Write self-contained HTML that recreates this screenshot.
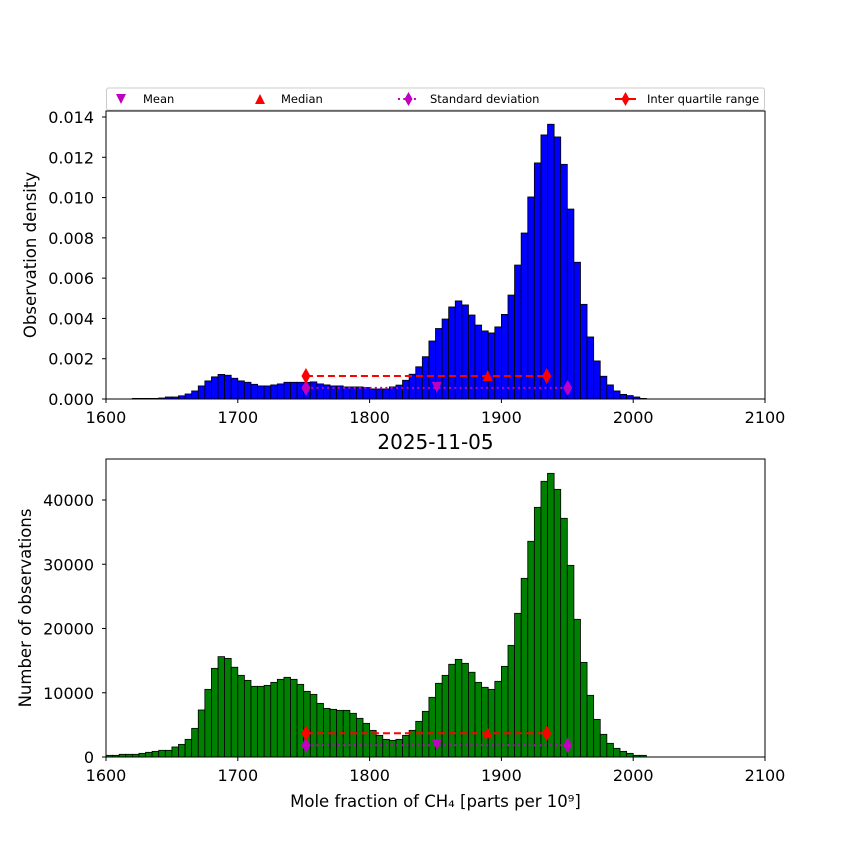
<!DOCTYPE html>
<html><head><meta charset="utf-8"><style>
html,body{margin:0;padding:0;background:#fff;}
svg{display:block;font-family:"DejaVu Sans","Liberation Sans",sans-serif;}
</style></head><body>
<svg id="chart" width="850" height="850" viewBox="0 0 850 850"></svg>
<script>
// ---- data ----
const topBins = [1620,1625,1630,1635,1640,1645,1650,1655,1660,1665,1670,1675,1680,1685,1690,1695,1700,1705,1710,1715,1720,1725,1730,1735,1740,1745,1750,1755,1760,1765,1770,1775,1780,1785,1790,1795,1800,1805,1810,1815,1820,1825,1830,1835,1840,1845,1850,1855,1860,1865,1870,1875,1880,1885,1890,1895,1900,1905,1910,1915,1920,1925,1930,1935,1940,1945,1950,1955,1960,1965,1970,1975,1980,1985,1990,1995,2000,2005];
const topDensity = [0.00003,0.00003,0.00003,0.00003,0.00005,0.0001,0.0001,0.00016,0.00025,0.0004,0.00065,0.0009,0.0011,0.00122,0.00118,0.00103,0.0009,0.00083,0.00073,0.00065,0.00065,0.0007,0.00075,0.00083,0.00083,0.00083,0.00083,0.00085,0.00075,0.0007,0.00065,0.00065,0.0006,0.0006,0.0006,0.00057,0.0005,0.0005,0.0005,0.0006,0.00069,0.00093,0.00123,0.0016,0.0021,0.00288,0.0035,0.00397,0.00457,0.00487,0.00467,0.00417,0.00367,0.00338,0.00328,0.00358,0.0042,0.00516,0.00665,0.00824,0.01003,0.01172,0.01311,0.01364,0.01301,0.01165,0.00943,0.00679,0.0047,0.00308,0.00189,0.00113,0.0007,0.0004,0.00023,0.00017,0.0001,0.00003];
const botBins = [1600,1605,1610,1615,1620,1625,1630,1635,1640,1645,1650,1655,1660,1665,1670,1675,1680,1685,1690,1695,1700,1705,1710,1715,1720,1725,1730,1735,1740,1745,1750,1755,1760,1765,1770,1775,1780,1785,1790,1795,1800,1805,1810,1815,1820,1825,1830,1835,1840,1845,1850,1855,1860,1865,1870,1875,1880,1885,1890,1895,1900,1905,1910,1915,1920,1925,1930,1935,1940,1945,1950,1955,1960,1965,1970,1975,1980,1985,1990,1995,2000,2005];
const botCounts = [260,260,420,420,420,570,730,880,1040,1040,1560,1970,2750,4460,7320,10530,13800,15620,15350,13970,12710,11930,11000,11000,11150,11620,12090,12400,12090,11310,10220,9750,8350,7570,7420,7260,7260,6800,6020,5240,4150,3370,2750,2590,2750,3370,4150,5550,7110,9290,11470,12710,14430,15200,14580,13190,11620,10850,10530,11780,14110,17380,22360,27810,33570,38860,42910,44150,41660,37150,29830,21430,14730,9600,5860,3530,2130,1350,880,570,260,260];
const binWidth = 5;
const xTicks = [1600,1700,1800,1900,2000,2100];
const topYTicks = [0,0.002,0.004,0.006,0.008,0.010,0.012,0.014];
const topYLabels = ["0.000","0.002","0.004","0.006","0.008","0.010","0.012","0.014"];
const botYTicks = [0,10000,20000,30000,40000];
const botYLabels = ["0","10000","20000","30000","40000"];
// stats: mean, median, std range, IQR
const statMean = 1851, statMedian = 1889.6;
const statStd = [1751.7, 1950.3];
const statIQR = [1751.7, 1934.4];
const topStatY = {iqr:0.00114, std:0.00055};
const botStatY = {iqr:3690, std:1820};

const NS="http://www.w3.org/2000/svg";
const svg=document.getElementById('chart');
function el(tag,attrs,parent){const e=document.createElementNS(NS,tag);for(const k in attrs)e.setAttribute(k,attrs[k]);(parent||svg).appendChild(e);return e;}
const X0=106,X1=765;
function xs(v){return X0+(v-1600)/(2100-1600)*(X1-X0);}

function panel(name,Y0,Y1,ymax,bins,vals,color,yTicks,yLabels,stat,ylabel){
  const g=el('g',{});
  
  
  const ys=v=>Y1-(v/ymax)*(Y1-Y0);
  for(let i=0;i<bins.length;i++){
    const r=el('rect',{x:xs(bins[i]),y:ys(vals[i]),width:xs(bins[i]+binWidth)-xs(bins[i]),height:Y1-ys(vals[i]),fill:color,stroke:'#000','stroke-width':0.8},g);
    
    
  }
  const yi=ys(stat.iqr), yd=ys(stat.std);
  const l1=el('line',{x1:xs(statStd[0]),x2:xs(statStd[1]),y1:yd,y2:yd,stroke:'#bf00bf','stroke-width':2,'stroke-dasharray':'2,3.3'},g);
  
  statStd.forEach(v=>{const d=el('polygon',{points:`${xs(v)},${yd-8} ${xs(v)+4.5},${yd} ${xs(v)},${yd+8} ${xs(v)-4.5},${yd}`,fill:'#bf00bf'},g);});
  const mx=xs(statMean);
  const m=el('polygon',{points:`${mx-5},${yd-6} ${mx+5},${yd-6} ${mx},${yd+5}`,fill:'#bf00bf'},g);
  
  const l2=el('line',{x1:xs(statIQR[0]),x2:xs(statIQR[1]),y1:yi,y2:yi,stroke:'#ff0000','stroke-width':2,'stroke-dasharray':'7,4'},g);
  
  statIQR.forEach(v=>{const d=el('polygon',{points:`${xs(v)},${yi-8} ${xs(v)+4.5},${yi} ${xs(v)},${yi+8} ${xs(v)-4.5},${yi}`,fill:'#ff0000'},g);});
  const dx=xs(statMedian);
  const md=el('polygon',{points:`${dx-5},${yi+5} ${dx+5},${yi+5} ${dx},${yi-6}`,fill:'#ff0000'},g);
  
  const f=el('rect',{x:X0,y:Y0,width:X1-X0,height:Y1-Y0,fill:'none',stroke:'#000','stroke-width':1},g);
  
  xTicks.forEach(t=>{el('line',{x1:xs(t),x2:xs(t),y1:Y1,y2:Y1+4,stroke:'#000'},g);
    const tx=el('text',{x:xs(t),y:Y1+24,'font-size':16,'text-anchor':'middle'},g);tx.textContent=t;
    });
  yTicks.forEach((t,i)=>{el('line',{x1:X0-4,x2:X0,y1:ys(t),y2:ys(t),stroke:'#000'},g);
    const tx=el('text',{x:X0-12,y:ys(t)+6,'font-size':16,'text-anchor':'end'},g);tx.textContent=yLabels[i];
    });
  const yl=el('text',{x:0,y:0,'font-size':16.5,'text-anchor':'middle',transform:`translate(${ylabel[1]},${(Y0+Y1)/2}) rotate(-90)`},g);
  yl.textContent=ylabel[0];
  
}
panel('top',111,399,0.014*(399-111)/(399-117),topBins,topDensity,'#0000ff',topYTicks,topYLabels,topStatY,['Observation density',36]);
panel('bottom',459,757,40000*(757-459)/(757-500),botBins,botCounts,'#008000',botYTicks,botYLabels,botStatY,['Number of observations',31]);

const title=el('text',{x:435.5,y:449,'font-size':20,'text-anchor':'middle'});
title.textContent='2025-11-05';


const xt=el('text',{x:435.5,y:807,'font-size':16.5,'text-anchor':'middle'});
xt.textContent='Mole fraction of CH₄ [parts per 10⁹]';



const lg=el('g',{});


el('rect',{x:106.5,y:88,width:658,height:22,rx:2,fill:'#fff',stroke:'#cccccc','stroke-width':1},lg);
const ly=99;
const e1=el('polygon',{points:`116,${ly-5} 126,${ly-5} 121,${ly+5}`,fill:'#bf00bf'},lg);

const e2=el('polygon',{points:`255,${ly+5} 265,${ly+5} 260,${ly-5}`,fill:'#ff0000'},lg);

el('line',{x1:398,x2:419,y1:ly,y2:ly,stroke:'#bf00bf','stroke-width':2,'stroke-dasharray':'2,3.3'},lg);
el('polygon',{points:`408.5,${ly-7} 412.5,${ly} 408.5,${ly+7} 404.5,${ly}`,fill:'#bf00bf'},lg);
el('line',{x1:615,x2:636,y1:ly,y2:ly,stroke:'#ff0000','stroke-width':2},lg);
el('polygon',{points:`625.5,${ly-7} 629.5,${ly} 625.5,${ly+7} 621.5,${ly}`,fill:'#ff0000'},lg);
[['Mean',143],['Median',281],['Standard deviation',430],['Inter quartile range',647]].forEach(a=>{
  const t=el('text',{x:a[1],y:ly+4,'font-size':11.5},lg);t.textContent=a[0];
  
});
</script>
</body></html>
